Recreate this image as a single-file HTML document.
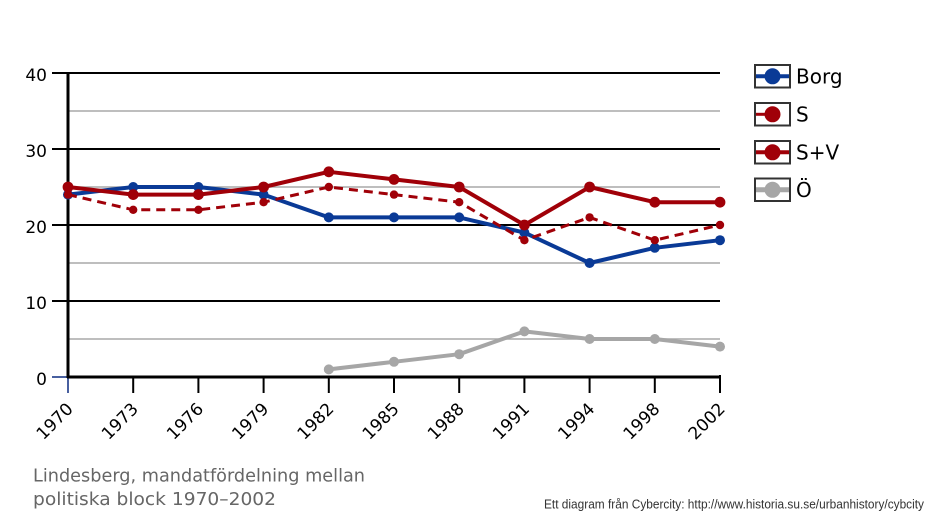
<!DOCTYPE html>
<html>
<head>
<meta charset="utf-8">
<style>
html,body{margin:0;padding:0;background:#fff;}
svg{display:block;}
</style>
</head>
<body>
<svg width="938" height="521" viewBox="0 0 938 521" xmlns="http://www.w3.org/2000/svg">
<rect width="938" height="521" fill="#fff"/>
<!-- minor gridlines -->
<g stroke="#a8a8a8" stroke-width="1.5">
<line x1="68" y1="111" x2="720" y2="111"/>
<line x1="68" y1="187" x2="720" y2="187"/>
<line x1="68" y1="263" x2="720" y2="263"/>
<line x1="68" y1="339" x2="720" y2="339"/>
</g>
<!-- major gridlines -->
<g stroke="#000" stroke-width="2">
<line x1="52" y1="73" x2="720" y2="73"/>
<line x1="52" y1="149" x2="720" y2="149"/>
<line x1="52" y1="225" x2="720" y2="225"/>
<line x1="52" y1="301" x2="720" y2="301"/>
</g>
<line x1="52" y1="377" x2="68" y2="377" stroke="#0a2a80" stroke-width="1.5"/>
<!-- x ticks -->
<g stroke="#000" stroke-width="2">
<line x1="133.2" y1="377" x2="133.2" y2="393"/>
<line x1="198.4" y1="377" x2="198.4" y2="393"/>
<line x1="263.6" y1="377" x2="263.6" y2="393"/>
<line x1="328.8" y1="377" x2="328.8" y2="393"/>
<line x1="394" y1="377" x2="394" y2="393"/>
<line x1="459.2" y1="377" x2="459.2" y2="393"/>
<line x1="524.4" y1="377" x2="524.4" y2="393"/>
<line x1="589.6" y1="377" x2="589.6" y2="393"/>
<line x1="654.8" y1="377" x2="654.8" y2="393"/>
<line x1="720" y1="375" x2="720" y2="393"/>
</g>
<line x1="68" y1="377" x2="68" y2="393" stroke="#0a2a80" stroke-width="1.5"/>
<!-- axes -->
<line x1="68" y1="72" x2="68" y2="378" stroke="#000" stroke-width="3"/>
<line x1="67" y1="377" x2="721" y2="377" stroke="#000" stroke-width="3"/>

<!-- y labels -->
<g font-family="DejaVu Sans, Liberation Sans, sans-serif" font-size="17" fill="#000" text-anchor="end">
<text x="47" y="81">40</text>
<text x="47" y="157">30</text>
<text x="47" y="233">20</text>
<text x="47" y="309">10</text>
<text x="47" y="385">0</text>
</g>
<!-- x labels -->
<g font-family="DejaVu Sans, Liberation Sans, sans-serif" font-size="17" fill="#000" text-anchor="end">
<text transform="translate(74,410) rotate(-45)">1970</text>
<text transform="translate(139.2,410) rotate(-45)">1973</text>
<text transform="translate(204.4,410) rotate(-45)">1976</text>
<text transform="translate(269.6,410) rotate(-45)">1979</text>
<text transform="translate(334.8,410) rotate(-45)">1982</text>
<text transform="translate(400,410) rotate(-45)">1985</text>
<text transform="translate(465.2,410) rotate(-45)">1988</text>
<text transform="translate(530.4,410) rotate(-45)">1991</text>
<text transform="translate(595.6,410) rotate(-45)">1994</text>
<text transform="translate(660.8,410) rotate(-45)">1998</text>
<text transform="translate(726,410) rotate(-45)">2002</text>
</g>

<!-- Borg -->
<g>
<polyline fill="none" stroke="#0a3a96" stroke-width="4" stroke-linejoin="round" points="68,194.6 133.2,187 198.4,187 263.6,194.6 328.8,217.4 394,217.4 459.2,217.4 524.4,232.6 589.6,263 654.8,247.8 720,240.2"/>
<g fill="#0a3a96">
<circle cx="68" cy="194.6" r="5"/><circle cx="133.2" cy="187" r="5"/><circle cx="198.4" cy="187" r="5"/><circle cx="263.6" cy="194.6" r="5"/><circle cx="328.8" cy="217.4" r="5"/><circle cx="394" cy="217.4" r="5"/><circle cx="459.2" cy="217.4" r="5"/><circle cx="524.4" cy="232.6" r="5"/><circle cx="589.6" cy="263" r="5"/><circle cx="654.8" cy="247.8" r="5"/><circle cx="720" cy="240.2" r="5"/>
</g>
</g>
<!-- S dashed -->
<g>
<polyline fill="none" stroke="#a00008" stroke-width="3" stroke-dasharray="9,6" points="68,194.6 133.2,209.8 198.4,209.8 263.6,202.2 328.8,187 394,194.6 459.2,202.2 524.4,240.2 589.6,217.4 654.8,240.2 720,225"/>
<g fill="#a00008">
<circle cx="68" cy="194.6" r="4.2"/><circle cx="133.2" cy="209.8" r="4.2"/><circle cx="198.4" cy="209.8" r="4.2"/><circle cx="263.6" cy="202.2" r="4.2"/><circle cx="328.8" cy="187" r="4.2"/><circle cx="394" cy="194.6" r="4.2"/><circle cx="459.2" cy="202.2" r="4.2"/><circle cx="524.4" cy="240.2" r="4.2"/><circle cx="589.6" cy="217.4" r="4.2"/><circle cx="654.8" cy="240.2" r="4.2"/><circle cx="720" cy="225" r="4.2"/>
</g>
</g>
<!-- S+V -->
<g>
<polyline fill="none" stroke="#a00008" stroke-width="4" stroke-linejoin="round" points="68,187 133.2,194.6 198.4,194.6 263.6,187 328.8,171.8 394,179.4 459.2,187 524.4,225 589.6,187 654.8,202.2 720,202.2"/>
<g fill="#a00008">
<circle cx="68" cy="187" r="5.4"/><circle cx="133.2" cy="194.6" r="5.4"/><circle cx="198.4" cy="194.6" r="5.4"/><circle cx="263.6" cy="187" r="5.4"/><circle cx="328.8" cy="171.8" r="5.4"/><circle cx="394" cy="179.4" r="5.4"/><circle cx="459.2" cy="187" r="5.4"/><circle cx="524.4" cy="225" r="5.4"/><circle cx="589.6" cy="187" r="5.4"/><circle cx="654.8" cy="202.2" r="5.4"/><circle cx="720" cy="202.2" r="5.4"/>
</g>
</g>
<!-- Ö -->
<g>
<polyline fill="none" stroke="#a6a6a6" stroke-width="4" stroke-linejoin="round" points="328.8,369.4 394,361.8 459.2,354.2 524.4,331.4 589.6,339 654.8,339 720,346.6"/>
<g fill="#a6a6a6">
<circle cx="328.8" cy="369.4" r="5"/><circle cx="394" cy="361.8" r="5"/><circle cx="459.2" cy="354.2" r="5"/><circle cx="524.4" cy="331.4" r="5"/><circle cx="589.6" cy="339" r="5"/><circle cx="654.8" cy="339" r="5"/><circle cx="720" cy="346.6" r="5"/>
</g>
</g>

<!-- Legend -->
<g>
<rect x="755" y="65" width="35" height="22.5" fill="#fff" stroke="#333" stroke-width="2"/>
<line x1="756" y1="76.3" x2="789" y2="76.3" stroke="#0a3a96" stroke-width="4"/>
<circle cx="772.5" cy="76.3" r="8" fill="#0a3a96"/>
<rect x="755" y="103" width="35" height="22.5" fill="#fff" stroke="#333" stroke-width="2"/>
<line x1="756" y1="114.3" x2="768" y2="114.3" stroke="#a00008" stroke-width="3"/>
<circle cx="772.5" cy="114.3" r="8" fill="#a00008"/>
<rect x="755" y="141" width="35" height="22.5" fill="#fff" stroke="#333" stroke-width="2"/>
<line x1="756" y1="152.3" x2="789" y2="152.3" stroke="#a00008" stroke-width="4"/>
<circle cx="772.5" cy="152.3" r="8" fill="#a00008"/>
<rect x="755" y="178.5" width="35" height="22.5" fill="#fff" stroke="#333" stroke-width="2"/>
<line x1="756" y1="189.8" x2="789" y2="189.8" stroke="#a6a6a6" stroke-width="5"/>
<circle cx="772.5" cy="189.8" r="8" fill="#a6a6a6"/>
<g font-family="DejaVu Sans, Liberation Sans, sans-serif" font-size="20" fill="#000">
<text x="796" y="83.5">Borg</text>
<text x="796" y="121.5">S</text>
<text x="796" y="159.5">S+V</text>
<text x="796" y="197">Ö</text>
</g>
</g>

<!-- Title -->
<g font-family="DejaVu Sans, Liberation Sans, sans-serif" font-size="18" fill="#666">
<text x="33" y="481.5" textLength="332" lengthAdjust="spacingAndGlyphs">Lindesberg, mandatfördelning mellan</text>
<text x="33" y="505" textLength="243" lengthAdjust="spacingAndGlyphs">politiska block 1970–2002</text>
</g>
<!-- Footer -->
<text x="544" y="508.5" font-family="Liberation Sans, Arial, sans-serif" font-size="13" fill="#333" textLength="380" lengthAdjust="spacingAndGlyphs">Ett diagram från Cybercity: http://www.historia.su.se/urbanhistory/cybcity</text>
</svg>
</body>
</html>
